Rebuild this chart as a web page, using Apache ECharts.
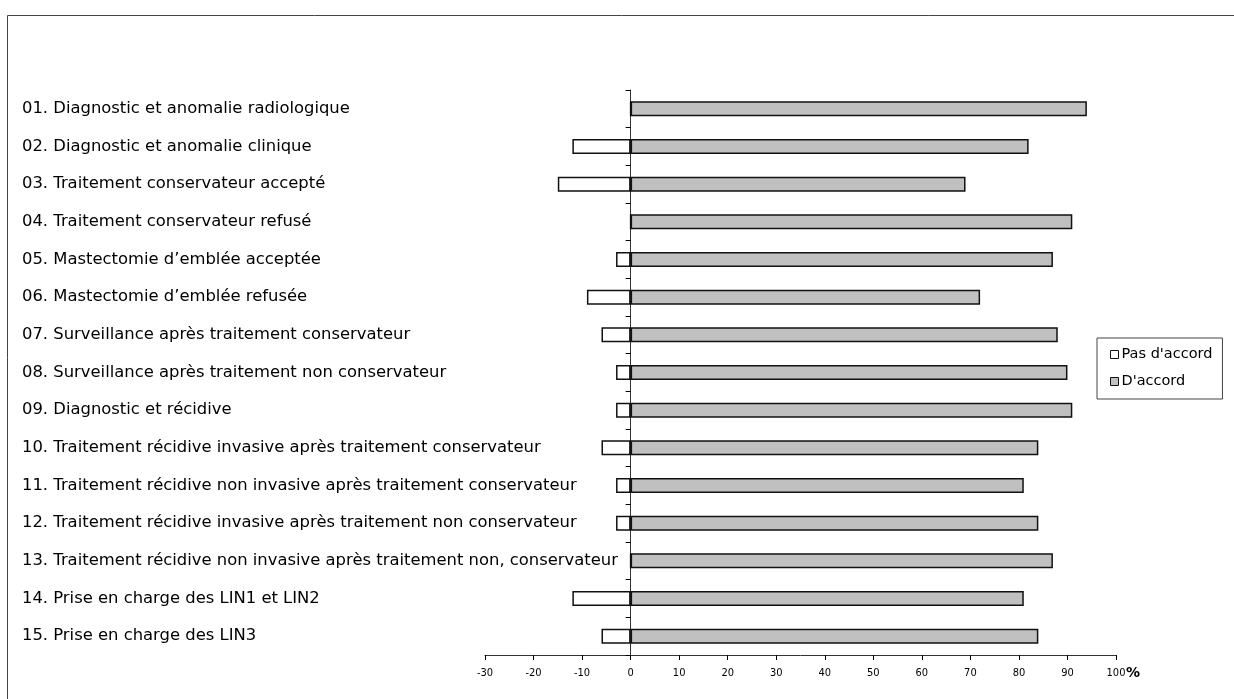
<!DOCTYPE html>
<html>
<head>
<meta charset="utf-8">
<script src="https://cdn.jsdelivr.net/npm/echarts@6/dist/echarts.min.js"></script>
<style>
  html, body { margin: 0; padding: 0; background: #fff; }
  #chart { width: 1234px; height: 699px; }
</style>
</head>
<body>
<div id="chart"></div>
<script>
const categories = [
  "01. Diagnostic et anomalie radiologique",
  "02. Diagnostic et anomalie clinique",
  "03. Traitement conservateur accepté",
  "04. Traitement conservateur refusé",
  "05. Mastectomie d’emblée acceptée",
  "06. Mastectomie d’emblée refusée",
  "07. Surveillance après traitement conservateur",
  "08. Surveillance après traitement non conservateur",
  "09. Diagnostic et récidive",
  "10. Traitement récidive invasive après traitement conservateur",
  "11. Traitement récidive non invasive après traitement conservateur",
  "12. Traitement récidive invasive après traitement non conservateur",
  "13. Traitement récidive non invasive après traitement non, conservateur",
  "14. Prise en charge des LIN1 et LIN2",
  "15. Prise en charge des LIN3"
];
// pas d'accord (negative side)
const pasAccord = [0, -12, -15, 0, -3, -9, -6, -3, -3, -6, -3, -3, 0, -12, -6];
// d'accord
const accord = [94, 82, 69, 91, 87, 72, 88, 90, 91, 84, 81, 84, 87, 81, 84];
const seriesNames = ["Pas d'accord", "D'accord"];

const myChart = echarts.init(document.getElementById("chart"));

const option = {
  animation: false,
  graphic: [
    {
      type: "rect",
      shape: { x: 7.5, y: 15.5, width: 1400, height: 900 },
      style: { fill: "none", stroke: "#444", lineWidth: 1 },
      silent: true
    }
  ],
  legend: {
    orient: "vertical",
    left: 1097,
    top: 338,
    itemWidth: 8,
    itemHeight: 8,
    itemGap: 10,
    padding: [8, 10, 9, 13],
    borderColor: "#444",
    borderWidth: 1,
    icon: "rect",
    itemStyle: { borderWidth: 1 },
    textStyle: {
      fontFamily: "DejaVu Sans",
      fontSize: 14.5,
      lineHeight: 17,
      color: "#000",
      padding: [0, 0, 0, -2]
    },
    data: seriesNames
  },
  grid: {
    left: 485,
    right: 118,
    top: 90,
    bottom: 44,
    containLabel: false,
    outerBoundsMode: "none"
  },
  xAxis: {
    type: "value",
    min: -30,
    max: 100,
    interval: 10,
    name: "%",
    nameLocation: "end",
    nameGap: 10,
    nameMoveOverlap: false,
    nameTextStyle: {
      fontFamily: "DejaVu Sans",
      fontSize: 14,
      fontWeight: "bold",
      color: "#000",
      verticalAlign: "top",
      padding: [11, 0, 0, 0]
    },
    axisLine: { show: true, onZero: false, lineStyle: { color: "#333", width: 1 } },
    axisTick: { show: true, length: 5, lineStyle: { color: "#000" } },
    axisLabel: {
      margin: 13,
      fontFamily: "DejaVu Sans Condensed",
      fontSize: 11,
      color: "#000"
    },
    splitLine: { show: false }
  },
  yAxis: {
    type: "category",
    inverse: true,
    data: categories,
    axisLine: { show: true, onZero: true, lineStyle: { color: "#333", width: 1 } },
    axisTick: { show: true, inside: false, length: 5, lineStyle: { color: "#000" } },
    axisLabel: {
      align: "left",
      margin: 463,
      fontFamily: "DejaVu Sans",
      fontSize: 16.4,
      color: "#000"
    }
  },
  series: [
    {
      name: seriesNames[0],
      type: "bar",
      data: pasAccord,
      barWidth: 15,
      barGap: "-100%",
      itemStyle: { color: "#ffffff", borderColor: "#111", borderWidth: 1.5 }
    },
    {
      name: seriesNames[1],
      type: "bar",
      data: accord,
      barWidth: 15,
      itemStyle: { color: "#c0c0c0", borderColor: "#111", borderWidth: 1.5 }
    }
  ]
};

myChart.setOption(option);
</script>
</body>
</html>
